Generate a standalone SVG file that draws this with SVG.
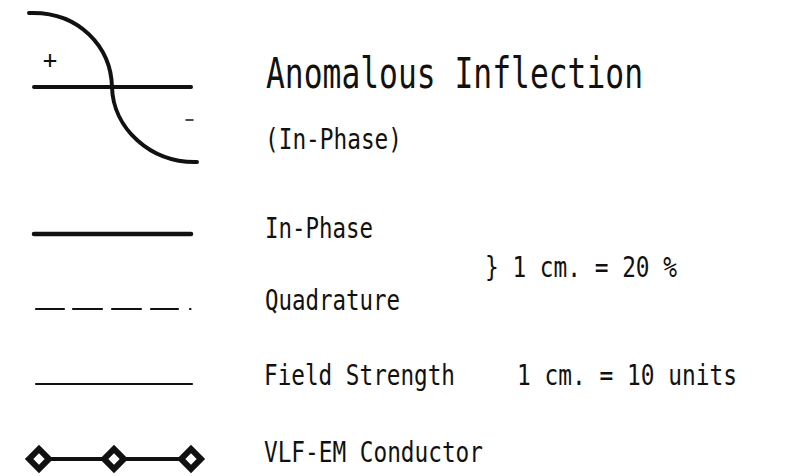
<svg xmlns="http://www.w3.org/2000/svg" width="792" height="476" viewBox="0 0 792 476">
<style>
  .t { font-family: "DejaVu Sans Mono", "Liberation Mono", monospace; fill: #111; }
  .s { font-size: 29px; }
  .k { fill: none; stroke: #111; stroke-linecap: round; }
</style>
<defs>
  <g id="dia"><rect x="-7" y="-7" width="14" height="14" transform="rotate(45)" fill="#fff" stroke="#111" stroke-width="6"/></g>
</defs>
<rect width="792" height="476" fill="#fff"/>
<g id="inflection-symbol">
  <path class="k" d="M29,13 C80,11 111,48 112,87 C113,128 150,163 197,162" stroke-width="4"/>
  <line class="k" x1="34" y1="87" x2="191" y2="87" stroke-width="4"/>
  <text class="t" x="50" y="68" font-size="24" text-anchor="middle">+</text>
  <line class="k" x1="186" y1="120" x2="193" y2="120" stroke-width="1.5"/>
</g>
<g id="inflection-label">
  <text class="t" x="266" y="88" font-size="42" textLength="377" lengthAdjust="spacingAndGlyphs">Anomalous Inflection</text>
  <text class="t s" x="265" y="149" textLength="137" lengthAdjust="spacingAndGlyphs">(In-Phase)</text>
</g>
<g id="in-phase">
  <line class="k" x1="34" y1="234" x2="191" y2="234" stroke-width="4.5"/>
  <text class="t s" x="265" y="238" textLength="108" lengthAdjust="spacingAndGlyphs">In-Phase</text>
</g>
<g id="quadrature">
  <path class="k" d="M36,309 H64 M73,309 H102 M112,309 H141 M151,309 H178 M190,309 H190.5" stroke-width="2.2"/>
  <text class="t s" x="265" y="310" textLength="135" lengthAdjust="spacingAndGlyphs">Quadrature</text>
</g>
<g id="scale-percent">
  <text class="t s" x="485" y="277" textLength="192" lengthAdjust="spacingAndGlyphs">} 1 cm. = 20 %</text>
</g>
<g id="field-strength">
  <line class="k" x1="36" y1="384" x2="192" y2="384" stroke-width="2.2"/>
  <text class="t s" x="264" y="385" textLength="191" lengthAdjust="spacingAndGlyphs">Field Strength</text>
  <text class="t s" x="517" y="385" textLength="220" lengthAdjust="spacingAndGlyphs">1 cm. = 10 units</text>
</g>
<g id="vlf-em-conductor">
  <line class="k" x1="39" y1="459" x2="191" y2="459" stroke-width="4"/>
  <use href="#dia" x="39" y="459"/>
  <use href="#dia" x="114" y="459"/>
  <use href="#dia" x="191" y="459"/>
  <text class="t s" x="264" y="462" textLength="219" lengthAdjust="spacingAndGlyphs">VLF-EM Conductor</text>
</g>
</svg>
